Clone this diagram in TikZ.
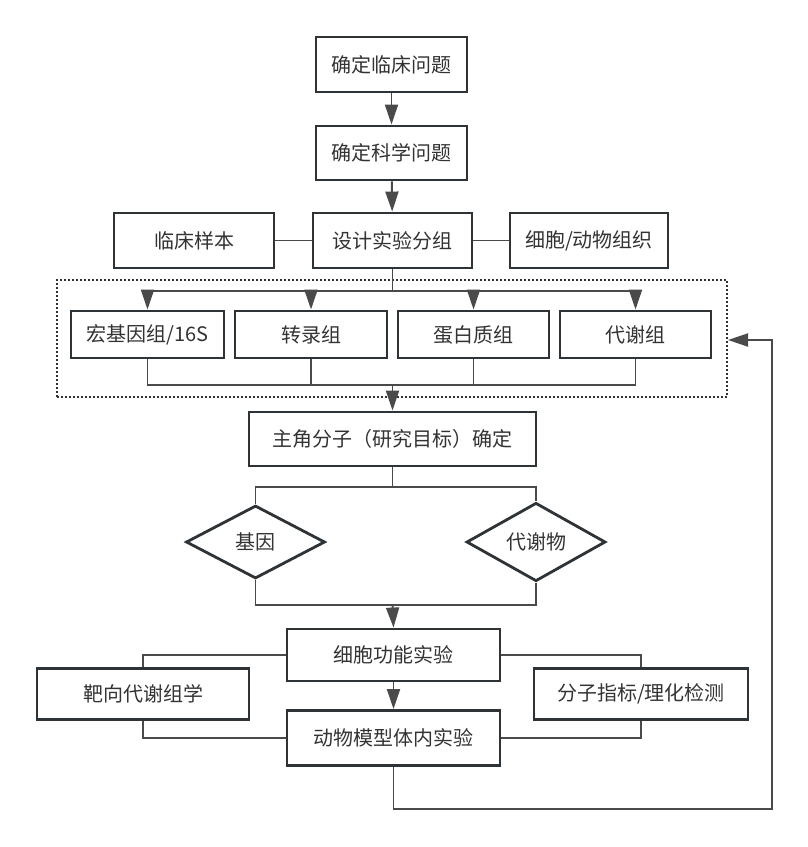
\documentclass[tikz,border=0pt]{standalone}
\usepackage{fontspec}
\newfontfamily\cjk{Noto Sans CJK SC}
\usetikzlibrary{arrows.meta,shapes.geometric}
\definecolor{ln}{HTML}{2E3338}
\definecolor{cn}{HTML}{4A4A4A}
\definecolor{txt}{HTML}{333333}
\tikzset{
  box/.style={draw=ln, line width=2.9pt, fill=white, minimum width=#1, minimum height=55, inner sep=0pt, text=txt, font=\cjk\fontsize{20}{24}\selectfont},
  dia/.style={diamond, draw=ln, line width=2.8pt, fill=white, minimum width=139, minimum height=73, inner sep=0pt, text=txt, font=\cjk\fontsize{20}{24}\selectfont},
  conn/.style={draw=cn, line width=1.9pt},
  arr/.style={conn, -{Triangle[length=20pt,width=13pt]}},
  grpbox/.style={draw=ln, line width=2pt, dash pattern=on 1.8pt off 2.2pt, minimum width=670, minimum height=117, inner sep=0pt}
}
\begin{document}
\begin{tikzpicture}[x=1pt,y=-1pt]
\useasboundingbox[fill=white] (0,0) rectangle (808,847);
% group box
\node[grpbox] (grp) at (392,338.5) {};
% nodes
\node[box=151] (q1) at (391.5,64.5) {确定临床问题};
\node[box=151, minimum height=54] (q2) at (391.5,153) {确定科学问题};
\node[box=159] (design) at (392.5,240.5) {设计实验分组};
\node[box=160] (clin) at (194,240.5) {临床样本};
\node[box=158] (cell) at (589,240.5) {细胞/动物组织};
\node[box=153, minimum height=47] (om1) at (147.5,334.5) {宏基因组/16S};
\node[box=152, minimum height=47] (om2) at (311,334.5) {转录组};
\node[box=151, minimum height=47] (om3) at (473.5,334.5) {蛋白质组};
\node[box=151, minimum height=47] (om4) at (635.5,334.5) {代谢组};
\node[box=287, minimum height=54] (main) at (392.5,439) {主角分子（研究目标）确定};
\node[dia] (d1) at (255.5,542) {基因};
\node[dia] (d2) at (536,542) {代谢物};
\node[box=213, minimum height=52] (func) at (393.5,655) {细胞功能实验};
\node[box=213, minimum height=55] (animal) at (393.5,738) {动物模型体内实验};
\node[box=212, minimum height=51] (target) at (143,694) {靶向代谢组学};
\node[box=214, minimum height=51] (mol) at (641,694) {分子指标/理化检测};
% helper coordinates
\coordinate (bus) at (392.5,291);
\coordinate (col) at (392.5,385);
\coordinate (split) at (392.5,487);
\coordinate (join) at (392.5,605);
\coordinate (fbb) at (772,809);
\coordinate (fbt) at (772,340);
% connectors
\draw[arr] (q1) -- (q2);
\draw[arr] (q2) -- (design);
\draw[conn] (clin.east) -- (design.west);
\draw[conn] (design.east) -- (cell.west);
\draw[conn] (design.south) -- (bus);
\draw[arr] (bus) -| (om1.north);
\draw[arr] (bus) -| (om2.north);
\draw[arr] (bus) -| (om3.north);
\draw[arr] (bus) -| (om4.north);
\draw[conn] (om1.south) |- (col);
\draw[conn] (om2.south) |- (col);
\draw[conn] (om3.south) |- (col);
\draw[conn] (om4.south) |- (col);
\draw[arr] (col) -- (main.north);
\draw[conn] (main.south) -- (split);
\draw[conn] (split) -| (d1.north);
\draw[conn] (split) -| (d2.north);
\draw[conn] (d1.south) |- (join);
\draw[conn] (d2.south) |- (join);
\draw[arr] (join) -- (func.north);
\draw[arr] (func) -- (animal);
\draw[conn] (func.west) -| (target.north);
\draw[conn] (target.south) |- (animal.west);
\draw[conn] (func.east) -| (mol.north);
\draw[conn] (mol.south) |- (animal.east);
\draw[arr] (animal.south) |- (fbb) -- (fbt) -- (grp.east |- fbt);
\end{tikzpicture}
\end{document}
